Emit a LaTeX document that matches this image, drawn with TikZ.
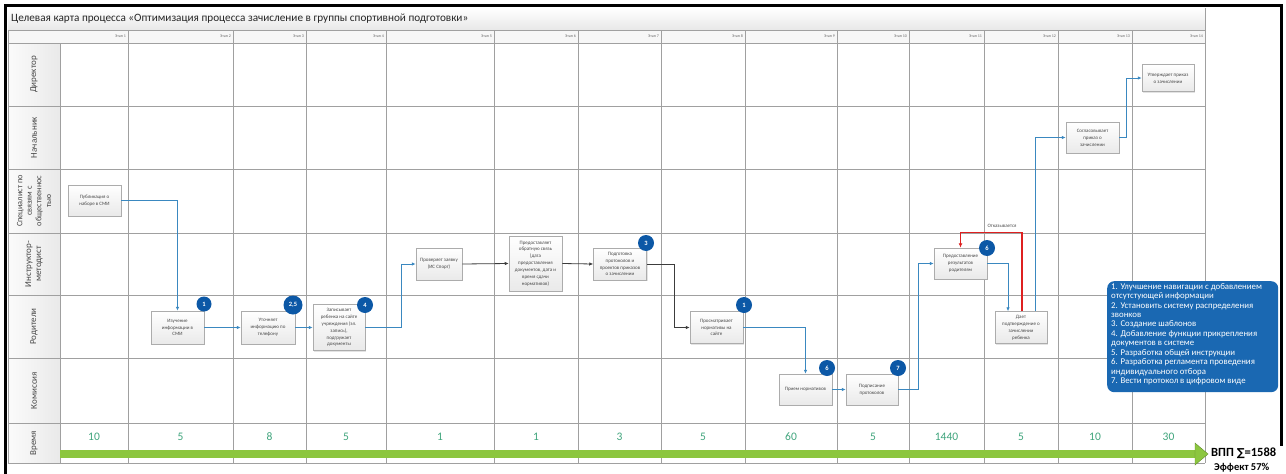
\documentclass[tikz,border=0pt]{standalone}
\usepackage{fontspec}
\setmainfont{Carlito}
\newfontfamily\symfont{DejaVu Sans}
\usetikzlibrary{arrows.meta,shadows}
\definecolor{gridc}{RGB}{160,160,160}
\definecolor{flowb}{RGB}{58,136,192}
\definecolor{flowd}{RGB}{60,60,60}
\definecolor{badgec}{RGB}{12,88,166}
\definecolor{infoc}{RGB}{26,104,178}
\definecolor{barc}{RGB}{140,198,63}
\definecolor{timec}{RGB}{64,165,125}
\definecolor{redc}{RGB}{222,32,32}
\definecolor{boxtext}{RGB}{70,70,70}
\begin{document}
\begin{tikzpicture}[x=1pt,y=-1pt,
  gridline/.style={draw=gridc,line width=0.7pt},
  stagelbl/.style={anchor=east,font=\fontsize{4}{5}\selectfont,text=black!60,inner sep=0pt},
  lanelbl/.style={rotate=90,align=center,font=\fontsize{9}{10}\selectfont,text=black!72,inner sep=0pt},
  procbox/.style={draw=gray!65,line width=0.5pt,top color=white,bottom color=gray!17,
    font=\fontsize{5}{6.9}\selectfont,text=boxtext,align=center,inner sep=1pt,
    drop shadow={opacity=0.22,shadow xshift=1.2pt,shadow yshift=-1.2pt}},
  badge/.style={circle,fill=badgec,text=white,font=\bfseries\fontsize{6.5}{7}\selectfont,inner sep=0pt,minimum size=16pt},
  flowblue/.style={draw=flowb,line width=1pt,-{Latex[length=4pt,width=3.5pt]}},
  flowdark/.style={draw=flowd,line width=0.8pt,-{Latex[length=4pt,width=3.5pt]}},
  flowred/.style={draw=redc,line width=1.1pt,-{Latex[length=4.5pt,width=4pt]}},
  timelbl/.style={font=\fontsize{11.5}{12}\selectfont,text=timec,inner sep=0pt}
]
\useasboundingbox (0,0) rectangle (1286,474);
\fill[white] (0,0) rectangle (1286,474);
% title bar and header row
\shade[top color=white,bottom color=gray!18] (8,8) rectangle (1205,30);
\fill[gray!6] (8,30) rectangle (1205,43);
\shade[left color=gray!3,right color=gray!17] (8,43) rectangle (60,463);
\draw[gridline] (8,30) -- (1205,30);
\draw[gridline] (1205,8) -- (1205,30);
\node[anchor=west,font=\fontsize{11.2}{13}\selectfont,text=black!85,inner sep=0pt] (title) at (11,19)
  {Целевая карта процесса «Оптимизация процесса зачисление в группы спортивной подготовки»};
% grid
\foreach \y in {43,106,169,233,295,358,423,463} \draw[gridline] (8,\y) -- (1205,\y);
\draw[gridline] (8,30) -- (8,463);
\draw[gridline] (60,43) -- (60,463);
\foreach \x in {128,233,306,386,494,578,661,745,837,909,984,1058,1132,1205}
  \draw[gridline] (\x,30) -- (\x,463);
\foreach \x/\n in {128/1,233/2,306/3,386/4,494/5,578/6,661/7,745/8,837/9,909/10,984/11,1058/12,1132/13,1205/14}
  \node[stagelbl] (st\n) at (\x-2,36.5) {Этап \n};
% lane labels
\node[lanelbl] (l1) at (34,74.5) {Директор};
\node[lanelbl] (l2) at (34,137.5) {Начальник};
\node[lanelbl,font=\fontsize{8.3}{9.6}\selectfont] (l3) at (34,201) {Специалист по\\связям с\\общественнос\\тью};
\node[lanelbl] (l4) at (34,264) {Инструктор-\\методист};
\node[lanelbl] (l5) at (34,326.5) {Родители};
\node[lanelbl] (l6) at (34,390.5) {Комиссия};
\node[lanelbl] (l7) at (34,443) {Время};
% process boxes
\node[procbox,minimum width=53pt,minimum height=31pt] (pub) at (94.5,200.5) {Публикация о\\наборе в СМИ};
\node[procbox,minimum width=53pt,minimum height=33pt] (izu) at (177.5,327.5) {Изучение\\информации в\\СМИ};
\node[procbox,minimum width=54pt,minimum height=33pt] (uto) at (268,327.5) {Уточняет\\информацию по\\телефону};
\node[procbox,minimum width=52pt,minimum height=46pt] (zap) at (339,327.5) {Записывает\\ребенка на сайте\\учреждения (эл.\\запись),\\подгружает\\документы};
\node[procbox,minimum width=46pt,minimum height=32pt] (pro) at (439,264) {Проверяет заявку\\(ИС Спорт)};
\node[procbox,minimum width=53pt,minimum height=55pt] (pre) at (535.5,263.5) {Предоставляет\\обратную связь\\(дата\\предоставления\\документов, дата и\\время сдачи\\нормативов)};
\node[procbox,minimum width=53pt,minimum height=32pt] (pod) at (620,264) {Подготовка\\протоколов и\\проектов приказов\\о зачислении};
\node[procbox,minimum width=53pt,minimum height=32pt] (prs) at (716.5,327.5) {Просматривает\\нормативы на\\сайте};
\node[procbox,minimum width=53pt,minimum height=31pt] (pri) at (805.5,389.5) {Прием нормативов};
\node[procbox,minimum width=52pt,minimum height=31pt] (pdp) at (872,389.5) {Подписание\\протоколов};
\node[procbox,minimum width=53pt,minimum height=31pt] (res) at (960.5,263.5) {Предоставление\\результатов\\родителям};
\node[procbox,minimum width=52pt,minimum height=32pt] (dae) at (1021,327.5) {Дает\\подтверждение о\\зачислении\\ребенка};
\node[procbox,minimum width=53pt,minimum height=31pt] (sog) at (1092.5,137.5) {Согласовывает\\приказ о\\зачислении};
\node[procbox,minimum width=52pt,minimum height=27pt] (utv) at (1168,78) {Утверждает приказ\\о зачислении};
% connectors
\draw[flowblue] (pub.east) -| (izu.north);
\draw[flowblue] (izu.east) -- (uto.west);
\draw[flowblue] (uto.east) -- (zap.west);
\draw[flowblue] (zap.east) -- ++(36,0) |- (pro.west);
\draw[flowdark] (pro.east) -- (pre.west);
\draw[flowdark] (pre.east) -- (pod.west);
\draw[flowdark] (pod.east) -- ++(28,0) |- (prs.west);
\draw[flowblue] (prs.east) -| (pri.north);
\draw[flowblue] (pri.east) -- (pdp.west);
\draw[flowblue] (pdp.east) -- ++(20,0) |- (res.west);
\draw[flowblue] (res.east) -| ([xshift=-13pt]dae.north);
\draw[flowred] ([xshift=1pt]dae.north) -- ++(0,-79) -| (res.north);
\node[font=\fontsize{5}{6}\selectfont,text=black!70,inner sep=0pt] (otk) at (1002,226) {Отказывается};
\draw[flowblue] ([xshift=14pt]dae.north) |- (sog.west);
\draw[flowblue] (sog.east) -- ++(7,0) |- (utv.west);
% badges
\node[badge,minimum size=15pt] (b1) at (204,304) {1};
\node[badge,minimum size=19pt] (b2) at (293,305) {2,5};
\node[badge] (b3) at (365,305) {4};
\node[badge] (b4) at (646,243) {3};
\node[badge] (b5) at (744,305) {1};
\node[badge] (b6) at (827,368) {6};
\node[badge] (b7) at (898,368) {7};
\node[badge] (b8) at (987,248) {6};
% info box
\node[fill=infoc,rounded corners=7pt,minimum width=171pt,minimum height=111pt,anchor=north west,inner sep=0pt] (info) at (1107,281) {};
\node[anchor=north west,align=left,text=white,font=\fontsize{8.8}{9.45}\selectfont,inner sep=0pt] (infotxt) at (1111,283)
{1. Улучшение навигации с добавлением\\
отсутстующей информации\\
2. Установить систему распределения\\
звонков\\
3. Создание шаблонов\\
4. Добавление функции прикрепления\\
документов в системе\\
5. Разработка общей инструкции\\
6. Разработка регламента проведения\\
индивидуального отбора\\
7. Вести протокол в цифровом виде};
% time row
\fill[barc] (60,450) rectangle (1197,458);
\fill[barc,draw=barc!70!black,line width=0.4pt] (1195,443) -- (1208,454) -- (1195,465) -- cycle;
\foreach \x/\t [count=\i] in {94/10,180.5/5,269.5/8,346/5,440/1,536/1,619.5/3,703/5,791/60,873/5,946.5/1440,1021/5,1095/10,1168.5/30}
  \node[timelbl] (t\i) at (\x,437) {\t};
\node[anchor=west,font=\bfseries\fontsize{12.5}{14}\selectfont,inner sep=0pt] (vpp) at (1211,453) {ВПП {\symfont\fontsize{11}{12}\selectfont ∑}=1588};
\node[anchor=west,font=\bfseries\fontsize{10.5}{12}\selectfont,inner sep=0pt] (eff) at (1214,467.5) {Эффект 57\%};
% frame
\draw[line width=3pt] (5,474) -- (5,5.5) -- (1281,5.5) -- (1281,446);
\end{tikzpicture}
\end{document}
